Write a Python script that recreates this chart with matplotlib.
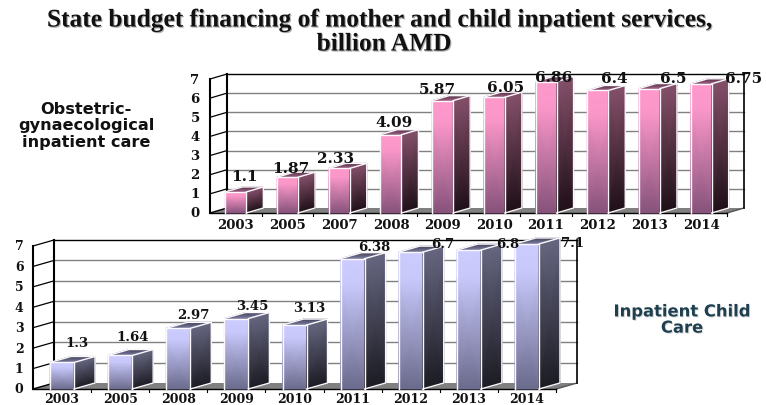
#!/usr/bin/env python3
import numpy as np
import matplotlib as mpl
mpl.use("Agg")
import matplotlib.pyplot as plt
import matplotlib.patheffects as pe
from matplotlib.colors import LinearSegmentedColormap
from matplotlib.patches import Polygon

W, H = 766, 406

years_top = ['2003', '2005', '2007', '2008', '2009', '2010', '2011', '2012',
             '2013', '2014']
values_top = [1.1, 1.87, 2.33, 4.09, 5.87, 6.05, 6.86, 6.4, 6.5, 6.75]
labels_top = ['1.1', '1.87', '2.33', '4.09', '5.87', '6.05', '6.86', '6.4',
              '6.5', '6.75']

years_bottom = ['2003', '2005', '2008', '2009', '2010', '2011', '2012', '2013',
                '2014']
values_bottom = [1.3, 1.64, 2.97, 3.45, 3.13, 6.38, 6.7, 6.8, 7.1]
labels_bottom = ['1.3', '1.64', '2.97', '3.45', '3.13', '6.38', '6.7', '6.8',
                 '7.1']

# label nudges in pixels, the original labels were placed by hand
nudge_top = [(9, 16), (3, 9), (-4, 10), (3, 13), (-5, 12), (11, 10), (8, 5),
             (17, 12), (24, 11), (42, 6)]
nudge_bottom = [(15, 20), (12, 19), (15, 14), (16, 13), (15, 18), (22, 12),
                (32, 9), (39, 7), (46, 1)]

pink = ('#ff99cc', '#85527a', '#84506a', '#1f1018', '#5a3348', '#a06488')
lilac = ('#ccccff', '#6a6a8c', '#666680', '#1c1c24', '#45455a', '#8080a8')


def to_axes(fig, left, right, top, bottom):
    return fig.add_axes([left / W, 1 - bottom / H, (right - left) / W,
                         (bottom - top) / H])


def chart(fig, box, depth, years, values, labels, nudges, colors, bar_px,
          label_size, tick_size, ytick_off, xtick_off):
    left, right, top, bottom = box
    ax = to_axes(fig, left, right, top, bottom)
    n = len(values)
    ppx = (right - left) / n
    ppy = (bottom - top) / 7
    dx = depth[0] / ppx
    dy = depth[1] / ppy
    bw = bar_px / ppx

    # floor
    ax.add_patch(Polygon([(0, 0), (n, 0), (n + dx, dy), (dx, dy)],
                         fc='#808080', ec='none', clip_on=False, zorder=1))
    ax.plot([0, dx], [0, dy], color='black', lw=1, clip_on=False, zorder=2)
    ax.plot([n, n + dx], [0, dy], color='#555555', lw=1, clip_on=False,
            zorder=2)

    # back wall and the left wall lines
    for v in range(1, 8):
        ax.plot([dx, n + dx], [v + dy, v + dy], color='black' if v == 7
                else '#808080', lw=1, clip_on=False, zorder=2)
        ax.plot([0, dx], [v, v + dy], color='black', lw=0.9, clip_on=False,
                zorder=2)
    ax.plot([dx, dx], [dy, 7 + dy], color='black', lw=1.5, clip_on=False,
            zorder=2)
    ax.plot([n + dx, n + dx], [dy, 7 + dy], color='black', lw=1.2,
            clip_on=False, zorder=2)
    ax.plot([0, 0], [0, 7], color='black', lw=1.5, clip_on=False, zorder=3)
    ax.plot([0, n], [0, 0], color='black', lw=1, clip_on=False, zorder=3)
    for i in range(1, n + 1):
        ax.plot([i, i], [0, -3 / ppy], color='black', lw=0.8, clip_on=False,
                zorder=3)

    front_cmap = LinearSegmentedColormap.from_list('front', [colors[1], colors[0]])
    side_cmap = LinearSegmentedColormap.from_list('side', [colors[3], colors[2]])
    top_cmap = LinearSegmentedColormap.from_list('top', [colors[5], colors[4]])

    for i, v in enumerate(values):
        x0 = i + 0.5 - bw / 2
        x1 = i + 0.5 + bw / 2
        z = 4 + i
        # front face, the top part stays at the light colour
        X = np.array([[x0, x1], [x0, x1], [x0, x1]])
        Y = np.array([[0, 0], [v * 0.8, v * 0.8], [v, v]])
        C = np.array([[0, 0], [0.95, 0.95], [1, 1]])
        ax.pcolormesh(X, Y, C, cmap=front_cmap, vmin=0, vmax=1,
                      shading='gouraud', clip_on=False, zorder=z)
        # side face
        X = np.array([[x1, x1 + dx], [x1, x1 + dx]])
        Y = np.array([[0, dy], [v, v + dy]])
        C = np.array([[0, 0], [1, 1]])
        ax.pcolormesh(X, Y, C, cmap=side_cmap, vmin=0, vmax=1,
                      shading='gouraud', clip_on=False, zorder=z)
        # top face
        X = np.array([[x0, x1], [x0 + dx, x1 + dx]])
        Y = np.array([[v, v], [v + dy, v + dy]])
        C = np.array([[0, 0], [1, 1]])
        ax.pcolormesh(X, Y, C, cmap=top_cmap, vmin=0, vmax=1,
                      shading='gouraud', clip_on=False, zorder=z)
        # white outlines
        edge = dict(color='#fbf8fc', lw=1, clip_on=False, zorder=z + 0.5,
                    solid_joinstyle='round')
        ax.plot([x0, x0, x1, x1], [0, v, v, 0], **edge)
        ax.plot([x1, x1 + dx, x1 + dx, x1], [v, v + dy, dy, 0], **edge)
        ax.plot([x0, x0 + dx, x1 + dx], [v, v + dy, v + dy], **edge)

    for i, (v, text, nudge) in enumerate(zip(values, labels, nudges)):
        ax.annotate(text, (i + 0.5, v), xytext=(nudge[0] * 0.72, nudge[1] * 0.72),
                    textcoords='offset points', ha='center', va='center',
                    family='DejaVu Serif', weight='bold', fontsize=label_size,
                    color='#111111', zorder=40, annotation_clip=False)

    ax.set_xlim(0, n)
    ax.set_ylim(0, 7)
    ax.axis('off')
    for i, year in enumerate(years):
        ax.annotate(year, (i + 0.5, 0), xytext=(0, xtick_off), textcoords='offset points',
                    ha='center', va='center', family='DejaVu Serif', weight='bold',
                    fontsize=tick_size, color='#111111', annotation_clip=False)
    for v in range(8):
        ax.annotate(str(v), (0, v), xytext=(ytick_off, 0), textcoords='offset points',
                    ha='center', va='center', family='DejaVu Serif', weight='bold',
                    fontsize=tick_size, color='#111111', annotation_clip=False)
    return ax


def main():
    fig = plt.figure(figsize=(W / 100, H / 100), dpi=100, facecolor='white')

    shadow = [pe.withSimplePatchShadow(offset=(0.8, -0.8), shadow_rgbFace='#777777',
                                       alpha=0.6)]
    soft_shadow = [pe.withSimplePatchShadow(offset=(0.7, -0.7), shadow_rgbFace='#999999',
                                            alpha=0.4)]
    fig.text(379 / W, 1 - 21 / H,
             'State budget financing of mother and child inpatient services,',
             ha='center', va='center', family='Liberation Serif', weight='bold',
             fontsize=18.3, color='#111111', path_effects=shadow)
    fig.text(384 / W, 1 - 45 / H, 'billion AMD', ha='center', va='center',
             family='Liberation Serif', weight='bold', fontsize=18.3,
             color='#111111', path_effects=shadow)
    fig.text(86 / W, 1 - 126 / H, 'Obstetric-\ngynaecological\ninpatient care',
             ha='center', va='center', family='DejaVu Sans', weight='bold',
             fontsize=11.6, color='#111111', linespacing=1.12)
    fig.text(682 / W, 1 - 321 / H, 'Inpatient Child\nCare', ha='center', va='center',
             family='DejaVu Sans', weight='bold', fontsize=11.8,
             color='#1d3f50', linespacing=1.1, path_effects=soft_shadow)

    chart(fig, (210, 727, 80, 214), (17, 5), years_top, values_top, labels_top,
          nudge_top, pink, 21, 11, 9.5, -10.8, -8)
    chart(fig, (33, 556, 247, 390), (21, 6), years_bottom, values_bottom,
          labels_bottom, nudge_bottom, lilac, 24, 9.5, 9, -10, -7.2)

    fig.savefig('out.png', dpi=100)


if __name__ == '__main__':
    main()
